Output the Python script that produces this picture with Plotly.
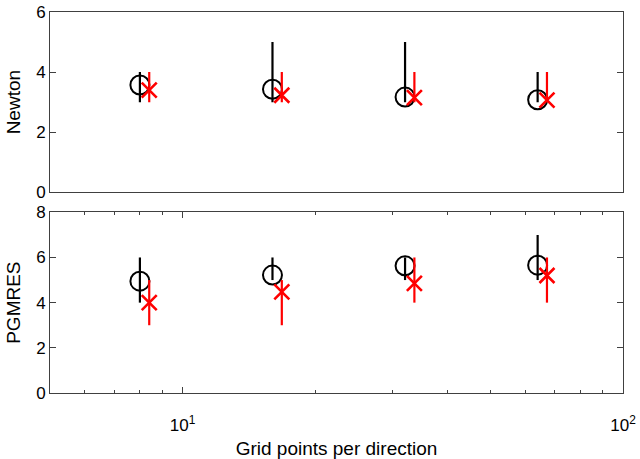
import plotly.graph_objects as go
import numpy as np

grid = [8, 16, 32, 64]
red_shift = 1.05

newton_black = [3.57, 3.43, 3.17, 3.08]
newton_black_min = [3, 3, 3, 3]
newton_black_max = [4, 5, 5, 4]
newton_red = [3.4, 3.23, 3.15, 3.07]
newton_red_min = [3, 3, 3, 3]
newton_red_max = [4, 4, 4, 4]

pgmres_black = [4.95, 5.22, 5.63, 5.66]
pgmres_black_min = [4, 5, 5, 5]
pgmres_black_max = [6, 6, 6, 7]
pgmres_red = [4.0, 4.48, 4.85, 5.2]
pgmres_red_min = [3, 3, 4, 4]
pgmres_red_max = [5, 5, 6, 6]

newton_ticks = [0, 2, 4, 6]
pgmres_ticks = [0, 2, 4, 6, 8]
x_ticks = [10, 100]
x_ticktext = ["10<sup>1</sup>", "10<sup>2</sup>"]
x_minor = [6, 7, 8, 9, 20, 30, 40, 50, 60, 70, 80, 90]

FONT = "Liberation Sans, Arial, Helvetica, sans-serif"
AX = "#404040"
TICK_SIZE = 17
TITLE_SIZE = 19


def series(x, y, ymin, ymax, color, symbol, size, xa, ya, lw):
    y = np.array(y)
    return go.Scatter(
        x=x, y=y, xaxis=xa, yaxis=ya, mode="markers",
        marker=dict(symbol=symbol, size=size, color=color,
                    line=dict(color=color, width=lw)),
        error_y=dict(type="data", symmetric=False,
                     array=np.array(ymax) - y, arrayminus=y - np.array(ymin),
                     color=color, thickness=2.2, width=0),
        showlegend=False, hoverinfo="skip",
    )


xr = [x * red_shift for x in grid]
fig = go.Figure()
fig.add_trace(series(grid, newton_black, newton_black_min, newton_black_max, "black", "circle-open", 19, "x2", "y2", 2))
fig.add_trace(series(xr, newton_red, newton_red_min, newton_red_max, "#ff0000", "x-thin-open", 15, "x2", "y2", 2.6))
fig.add_trace(series(grid, pgmres_black, pgmres_black_min, pgmres_black_max, "black", "circle-open", 19, "x", "y", 2))
fig.add_trace(series(xr, pgmres_red, pgmres_red_min, pgmres_red_max, "#ff0000", "x-thin-open", 15, "x", "y", 2.6))

xrange = [np.log10(5), 2]
tickfont = dict(size=TICK_SIZE, color="black", family=FONT)
titlefont = dict(size=TITLE_SIZE, color="black", family=FONT)
common_y = dict(showline=True, linecolor=AX, linewidth=1, mirror="ticks", ticks="inside",
                ticklen=6, tickcolor=AX, showgrid=False, zeroline=False, tickfont=tickfont,
                tickmode="array", automargin=False)

fig.update_layout(
    width=640, height=459,
    margin=dict(l=50, r=17, t=12, b=66),
    paper_bgcolor="white", plot_bgcolor="white",
    font=dict(family=FONT, color="black", size=TICK_SIZE),
    xaxis=dict(type="log", range=xrange, anchor="y", showline=True, linecolor=AX, linewidth=1,
               mirror="ticks", ticks="inside", ticklen=6, tickcolor=AX, showgrid=False,
               tickmode="array", tickvals=x_ticks, ticktext=x_ticktext, automargin=False,
               tickfont=tickfont, ticklabelstandoff=17,
               minor=dict(tickmode="array", tickvals=x_minor, ticks="inside", ticklen=3,
                          tickcolor=AX, showgrid=False),
               title=dict(text="Grid points per direction", standoff=7, font=titlefont)),
    xaxis2=dict(type="log", range=xrange, anchor="y2", matches="x", showline=True, linecolor=AX,
                linewidth=1, mirror=True, ticks="", showticklabels=False, showgrid=False,
                automargin=False),
    yaxis=dict(domain=[0, 0.4743], range=[0, 8], anchor="x", tickvals=pgmres_ticks,
               title=dict(text="PGMRES", standoff=10, font=titlefont), **common_y),
    yaxis2=dict(domain=[0.5267, 1], range=[0, 6], anchor="x2", tickvals=newton_ticks,
                title=dict(text="Newton", standoff=10, font=titlefont), **common_y),
)

fig.write_html("out.html")
